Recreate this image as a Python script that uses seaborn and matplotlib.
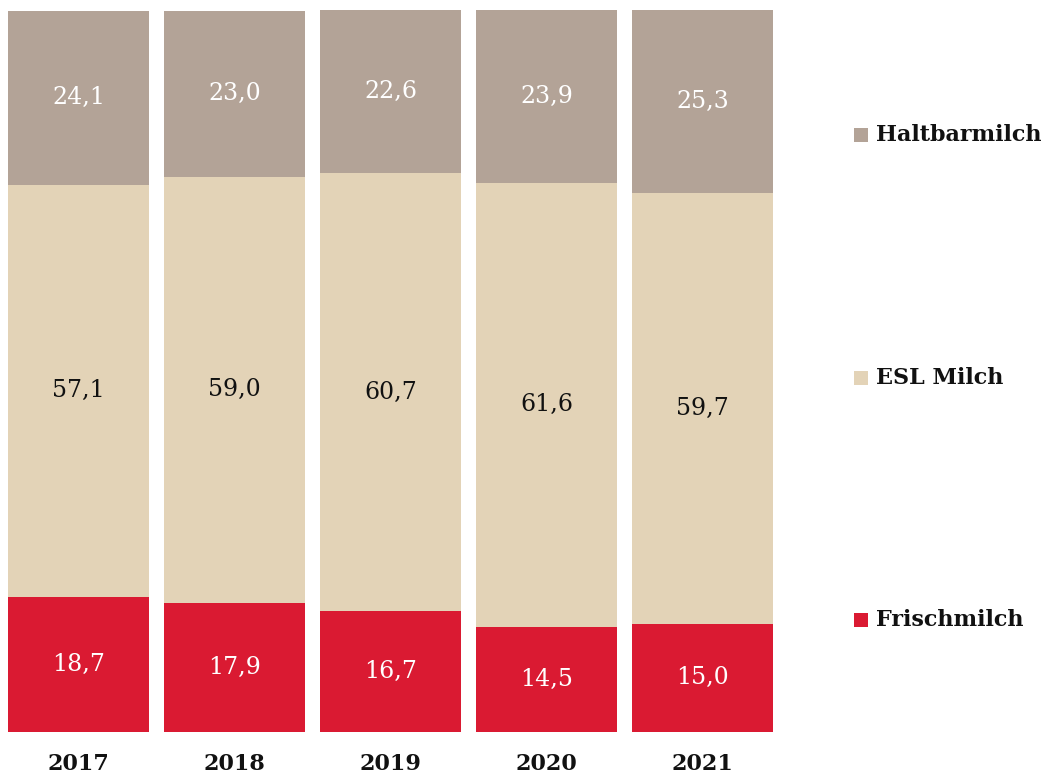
import pandas as pd
import matplotlib.pyplot as plt
import matplotlib.patches as mpatches
import seaborn as sns

# ── Data ──────────────────────────────────────────────────────────
years = ["2017", "2018", "2019", "2020", "2021"]
frischmilch = [18.7, 17.9, 16.7, 14.5, 15.0]
esl_milch = [57.1, 59.0, 60.7, 61.6, 59.7]
haltbarmilch = [24.1, 23.0, 22.6, 23.9, 25.3]

series = ["Frischmilch", "ESL Milch", "Haltbarmilch"]
colors = {"Frischmilch": "#DA1A32", "ESL Milch": "#E3D3B7", "Haltbarmilch": "#B3A397"}
text_colors = {"Frischmilch": "white", "ESL Milch": "#111111", "Haltbarmilch": "white"}

df = pd.DataFrame({"year": years, "Frischmilch": frischmilch,
                   "ESL Milch": esl_milch, "Haltbarmilch": haltbarmilch})

# ── Style ─────────────────────────────────────────────────────────
sns.set_theme(style="white")
plt.rcParams["font.family"] = ["DejaVu Serif"]

fig = plt.figure(figsize=(10.48, 7.79), dpi=100)
ax = fig.add_axes([0.5 / 1048, 47 / 779, 780 / 1048, 722 / 779])

bottom = [0.0] * len(years)
for name in series:
    sns.barplot(data=df, x="year", y=name, color=colors[name], width=0.91,
                bottom=bottom, ax=ax, saturation=1, linewidth=0)
    for i, v in enumerate(df[name]):
        ax.text(i, bottom[i] + v / 2, f"{v:.1f}".replace(".", ","),
                ha="center", va="center", fontsize=17,
                color=text_colors[name])
    bottom = [b + v for b, v in zip(bottom, df[name])]

ax.set_xlim(-0.5, len(years) - 0.5)
ax.set_ylim(0, 100)
ax.set_xlabel("")
ax.set_ylabel("")
ax.set_yticks([])
ax.tick_params(axis="x", length=0, pad=15)
for lbl in ax.get_xticklabels():
    lbl.set_fontsize(16)
    lbl.set_fontweight("bold")
    lbl.set_color("#111111")
sns.despine(ax=ax, left=True, bottom=True)

# Legend on the right
legend_y = {"Haltbarmilch": 135, "ESL Milch": 378, "Frischmilch": 620}
for name in series:
    y = 1 - legend_y[name] / 779
    fig.patches.append(mpatches.Rectangle((854 / 1048, y - 7 / 779), 14 / 1048, 14 / 779,
                                          transform=fig.transFigure,
                                          facecolor=colors[name], edgecolor="none"))
    fig.text(876 / 1048, y, name, ha="left", va="center", fontsize=16,
             fontweight="bold", color="#111111")

fig.savefig("out.png", dpi=100)
